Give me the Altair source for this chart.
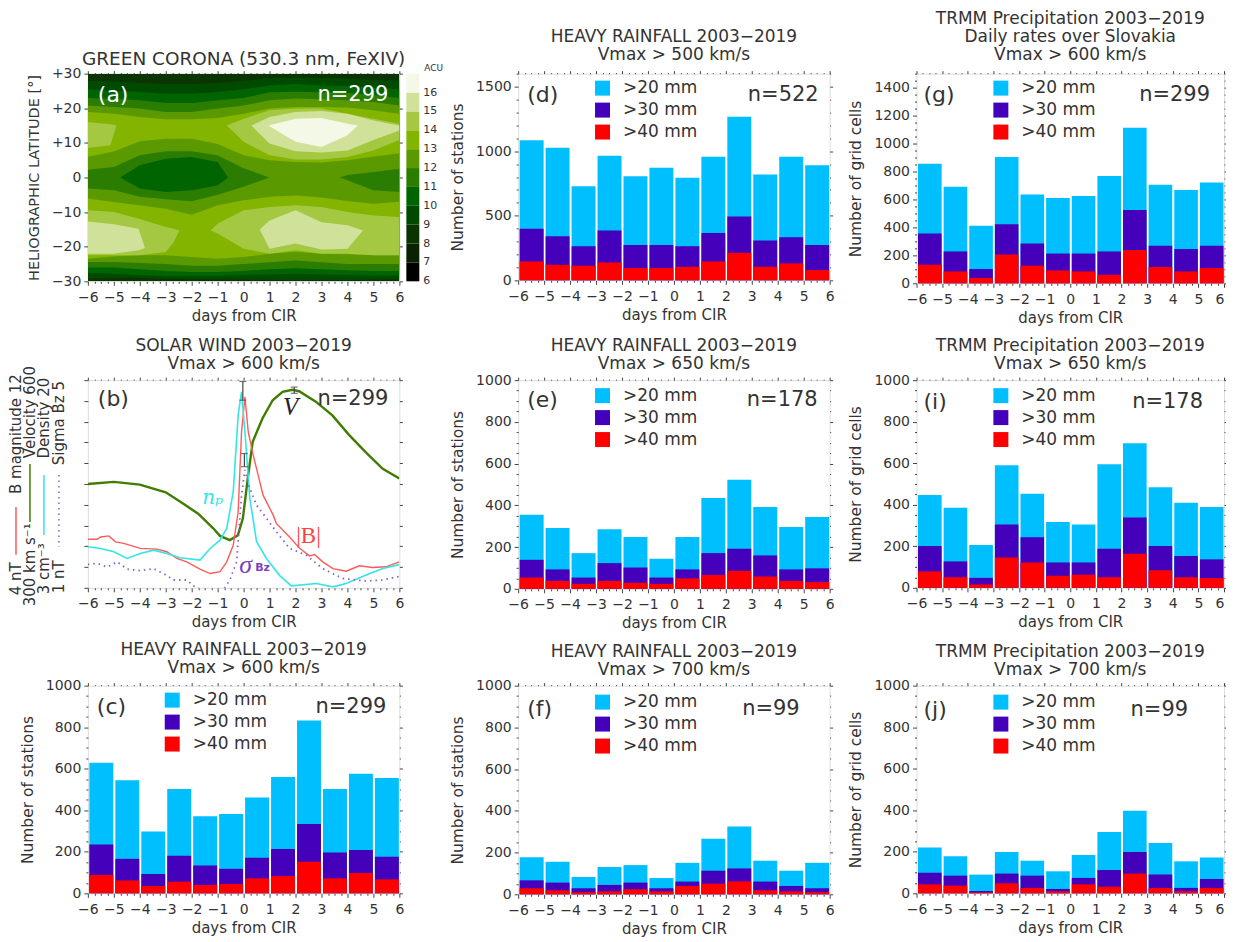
import altair as alt
import numpy as np
import pandas as pd

FONT = "DejaVu Sans"
SERIF = "Liberation Serif"
INK = "#333333"
W, H = 312, 208
BAND_NAMES = [">20 mm", ">30 mm", ">40 mm"]
BAND_COLORS = ["#00BFFF", "#4400BB", "#FF0000"]
DAY_TICKS = np.arange(-6, 6.01, 0.25).tolist()
BIN_LO = list(range(-6, 6))
DAYS = list(range(-6, 7))

# ---------- rainfall panels
c20 = [629, 544, 298, 502, 371, 382, 461, 560, 832, 502, 576, 555]
c30 = [235, 166, 93, 181, 134, 118, 171, 213, 334, 197, 208, 176]
c40 = [88, 62, 35, 56, 40, 45, 72, 83, 152, 72, 98, 67]
d20 = [1085, 1026, 728, 964, 805, 872, 795, 956, 1267, 820, 956, 890]
d30 = [400, 341, 264, 385, 274, 274, 264, 367, 495, 308, 333, 274]
d40 = [146, 120, 113, 138, 95, 95, 105, 146, 213, 105, 131, 79]
e20 = [355, 291, 171, 286, 248, 144, 248, 435, 523, 392, 296, 344]
e30 = [139, 93, 54, 123, 102, 54, 93, 171, 192, 160, 93, 98]
e40 = [54, 38, 24, 38, 29, 24, 50, 66, 86, 59, 38, 32]
f20 = [178, 156, 83, 131, 140, 78, 151, 266, 325, 161, 113, 151]
f30 = [67, 56, 29, 45, 56, 29, 61, 113, 124, 61, 40, 29]
f40 = [29, 19, 10, 14, 24, 14, 40, 51, 62, 19, 14, 10]
g20 = [856, 691, 412, 904, 635, 611, 625, 768, 1113, 705, 667, 722]
g30 = [356, 228, 102, 422, 284, 213, 213, 228, 524, 269, 245, 269]
g40 = [133, 85, 39, 206, 126, 92, 85, 61, 238, 116, 85, 109]
i20 = [447, 386, 206, 590, 453, 317, 305, 595, 696, 484, 410, 389]
i30 = [201, 127, 48, 305, 243, 122, 122, 188, 338, 201, 153, 137]
i40 = [79, 51, 16, 146, 122, 58, 63, 51, 164, 84, 51, 47]
j20 = [221, 179, 90, 199, 157, 106, 184, 295, 397, 242, 154, 173]
j30 = [99, 85, 11, 95, 85, 21, 74, 112, 199, 90, 26, 69]
j40 = [43, 37, 5, 48, 26, 10, 43, 32, 95, 26, 10, 26]

# ---------- solar wind panel
v_day = [-6, -5, -4, -3, -2.35, -1.75, -1.17, -0.91, -0.53, -0.22, -0.03, 0.16, 0.35, 0.73, 1.12, 1.5, 1.88, 2.14, 2.78, 3.42, 4.06, 4.7, 5.36, 6]
v_val = [450, 453, 449, 438, 422, 407, 386, 375, 369, 376, 400, 458, 511, 545, 571, 583, 586, 584, 569, 549, 521, 496, 472, 458]
b_day = [-6, -5.64, -5.51, -5.19, -4.94, -4.62, -3.98, -3.34, -2.96, -2.57, -2.19, -1.68, -1.29, -0.91, -0.65, -0.4, -0.21, -0.08, 0.05, 0.18, 0.37, 0.56, 0.75, 1.14, 1.26, 1.77, 2.16, 2.54, 2.73, 3.05, 3.44, 3.95, 4.46, 4.97, 5.48, 6]
b_val = [5.87, 5.87, 5.96, 6.0, 5.77, 5.71, 5.52, 5.49, 5.39, 5.13, 5.0, 4.72, 4.55, 4.62, 5.0, 5.64, 6.93, 10.0, 11.36, 10.0, 9.11, 8.34, 7.57, 6.8, 6.48, 5.96, 5.52, 5.23, 5.28, 5.0, 4.74, 4.64, 4.85, 4.78, 4.81, 5.0]
n_day = [-6, -5.51, -5, -4.49, -3.98, -3.47, -2.96, -2.45, -1.68, -1.29, -0.91, -0.65, -0.4, -0.21, -0.08, 0.05, 0.24, 0.5, 0.88, 1.4, 1.84, 2.8, 3.44, 3.95, 4.72, 5.36, 6]
n_val = [6.36, 6.22, 5.95, 5.4, 5.81, 6.08, 5.81, 5.46, 5.27, 6.22, 6.9, 7.86, 10.86, 17.14, 19.05, 15.77, 10.31, 6.77, 5.4, 3.98, 3.16, 3.35, 3.08, 3.35, 4.04, 4.58, 4.9]
s_day = [-6, -5.64, -5.26, -4.87, -4.49, -3.98, -3.47, -2.96, -2.7, -2.19, -1.81, -0.78, -0.53, -0.27, -0.08, 0.05, 0.24, 0.5, 0.88, 1.26, 1.77, 2.41, 3.05, 3.82, 4.72, 5.36, 6]
s_val = [1.45, 1.47, 1.40, 1.5, 1.36, 1.33, 1.37, 1.24, 1.15, 1.15, 0.99, 0.96, 1.15, 1.5, 2.78, 3.27, 2.91, 2.59, 2.34, 2.08, 1.76, 1.63, 1.37, 1.18, 1.13, 1.15, 1.22]
err_day = [-0.03, 0.03, 1.95]
err_hi = [598, 494, 590]
err_lo = [571, 475, 581]

# ---------- corona panel: contour regions, (level, days, upper latitude, lower latitude)
LEVEL_COLORS = ["#000000", "#0a2200", "#0a3500", "#004a00", "#006400", "#2a7d00", "#5a9a00", "#82b400", "#a5c843", "#d0e29a", "#f4f8e6"]
LEVELS = list(range(6, 17))
regions = [
    (8, [-6, 6], [30, 30], [-30, -30]),
    (9, DAYS, [28, 27.7, 27.3, 27, 27, 27.3, 28, 28.7, 28.9, 28.7, 28.5, 28.2, 28],
        [-29.2, -29, -29, -29.3, -29.5, -29.5, -29.5, -29.6, -29.6, -29.6, -29.6, -29.5, -29.5]),
    (10, DAYS, [25.5, 25, 24.7, 24.2, 24.2, 24.7, 25.5, 26.6, 27, 26.6, 26.4, 26, 25.5],
        [-27.5, -27.8, -28.2, -28.5, -28.5, -28.5, -28.2, -28, -27.8, -28, -28.2, -28.3, -28.3]),
    (11, DAYS, [23, 22.7, 22.3, 21.5, 21.5, 22.3, 23, 24.6, 24.8, 24.6, 24.4, 23.8, 23],
        [-26, -26, -26.5, -27, -27.3, -27.3, -27, -26.5, -26.2, -26.5, -26.8, -27, -27]),
    (12, DAYS, [20.8, 20.4, 19.9, 18.9, 18.9, 19.9, 20.8, 22.3, 22.8, 22.6, 22.3, 21.8, 20.8],
        [-24.4, -24.4, -24.7, -25, -25.5, -25.5, -25, -24.5, -24, -24.5, -25, -25, -25]),
    (13, DAYS, [18.9, 18.4, 17.5, 16.8, 16.8, 17.2, 18.4, 19.9, 20.4, 20.4, 20.2, 19.4, 18.4],
        [-23.5, -22.8, -22.5, -22.5, -23, -23.5, -23, -22, -21.5, -22, -22.2, -22.5, -22.5]),
    (12, DAYS, [6, 7.5, 10.5, 11.2, 11.2, 9.7, 6.4, 5, 4.5, 4.3, 5, 6, 7],
        [-6.1, -7.1, -8, -9, -10.8, -8, -6.6, -5.6, -5.2, -5.8, -6.8, -7.6, -7]),
    (11, [-6, -5, -4, -3, -2, -1, 0, 1], [2.2, 3, 6.4, 7.6, 7.6, 6.4, 2.7, 0], [-3.2, -3.7, -5.6, -6.3, -6.9, -5, -2.7, 0]),
    (11, [3.7, 4, 5, 6], [0, 0.7, 1.6, 2.5], [0, -0.8, -3.7, -4.2]),
    (10, [-4.75, -4, -3, -2, -1, -0.6], [0, 3.5, 5.4, 5.9, 4.5, 0], [0, -3.2, -4.2, -3.7, -2.3, 0]),
    (14, [-6, -5.13, -4.9], [16, 15.4, 15], [8.5, 9.3, 15]),
    (14, [-0.65, 0, 1, 2, 3, 4, 5, 6], [15, 17, 19.4, 19.9, 19.9, 18.4, 17, 15.5], [15, 10.3, 6.4, 5.2, 5.2, 5.9, 7.8, 10.8]),
    (15, [0.3, 1, 2, 3, 4, 5, 6], [15, 17.5, 18.9, 19.2, 18.4, 16.5, 15], [15, 9.8, 7.6, 7.2, 7.8, 10.8, 13.6]),
    (16, [0.95, 2, 3, 4, 4.4], [15, 17, 17.2, 15.5, 15], [15, 10.3, 8.8, 12.2, 15]),
    (14, [-6, -5, -4, -3, -2.7, -2.47], [-9.5, -10, -12, -14.3, -14.8, -15.3], [-22.5, -22.5, -22.5, -21.5, -18.7, -15.3]),
    (15, [-6, -5, -4.05, -3.8], [-12.7, -13.5, -14.8, -20.4], [-22, -22, -21, -20.4]),
    (14, [-1.27, -1, 0, 1, 2, 3, 4, 5, 6], [-15.3, -13.3, -9.5, -8.5, -8, -8.5, -10, -11, -11.4], [-15.3, -16.2, -20.6, -22, -21, -22, -22, -22.5, -22.5]),
    (15, [0.62, 1, 2, 3, 4, 4.6], [-15, -12.4, -9.5, -12.9, -13.8, -15.3], [-15, -20.6, -19.1, -20.8, -20.6, -15.3]),
]


def x_scale():
    return alt.Scale(domain=[-6, 6], nice=False, zero=False)


def x_axis(orient="bottom", flush_last=False):
    bottom = orient == "bottom"
    extra = {}
    if flush_last:
        extra["labelAlign"] = {"condition": {"test": "datum.value == 6", "value": "right"}, "value": "center"}
    return alt.Axis(
        orient=orient, values=DAY_TICKS, domain=False, grid=False,
        title="days from CIR" if bottom else None,
        titleFont=FONT, titleFontSize=15, titleFontWeight="normal", titleColor=INK, titlePadding=4,
        labels=bottom, labelFlush=False, labelOverlap=False, labelFont=FONT, labelFontSize=14,
        labelColor=INK, labelPadding=5,
        labelExpr="datum.value % 1 == 0 ? format(datum.value, 'd') : ''",
        tickColor="#444444", tickWidth=1,
        tickSize={"condition": {"test": "datum.value % 1 == 0", "value": 4 if bottom else 3}, "value": 2 if bottom else 1},
        **extra,
    )


def y_axis(ticks, major, orient="left", title=None, signed=False, show_labels=True, title_size=15.5):
    left = orient == "left"
    fmt = "(datum.value == 0 ? '0' : format(datum.value, '+d'))" if signed else "format(datum.value, 'd')"
    if left and title:
        kw = dict(title=title, titleFont=FONT, titleFontSize=title_size, titleFontWeight="normal",
                  titleColor=INK, titlePadding=10)
    else:
        kw = dict(title=None)
    return alt.Axis(
        orient=orient, values=ticks, domain=False, grid=False,
        labels=left and show_labels, labelFlush=False, labelOverlap=False, labelFont=FONT,
        labelFontSize=14, labelColor=INK, labelPadding=3,
        labelExpr=f"datum.value % {major} == 0 ? {fmt} : ''",
        tickColor="#444444", tickWidth=1,
        tickSize={"condition": {"test": f"datum.value % {major} == 0", "value": 4 if left else 3}, "value": 2 if left else 1},
        **kw,
    )


ONE = pd.DataFrame({"k": [0]})


def note(text, px, py, size=21, color=INK, align="left", font=FONT, style="normal", angle=0, weight="normal"):
    return alt.Chart(ONE).mark_text(
        text=text, font=font, fontSize=size, color=color, align=align, baseline="middle",
        fontStyle=style, angle=angle, fontWeight=weight,
    ).encode(x=alt.value(px), y=alt.value(py))


def panel_title(lines, offset=9, size=17):
    return alt.TitleParams(text=lines, font=FONT, fontSize=size, fontWeight="normal", color=INK,
                           lineHeight=18, anchor="middle", offset=offset)


def bar_panel(v20, v30, v40, ymax, major, minor, ytitle, lines, letter, n_text, n_right,
              letter_y, legend_y, legend_x=76, letter_x=9, width=W, height=H, title_offset=1, flush_last=False):
    rows = []
    for name, vals in zip(BAND_NAMES, (v20, v30, v40)):
        for lo, v in zip(BIN_LO, vals):
            rows.append({"lo": lo, "hi": lo + 1, "v": v, "zero": 0, "band": name})
    df = pd.DataFrame(rows)
    ticks = list(range(0, ymax + 1, minor))
    ysc = alt.Scale(domain=[0, ymax], nice=False, zero=True)
    bars = alt.Chart(df).mark_bar(binSpacing=2).encode(
        x=alt.X("lo:Q", bin="binned", scale=x_scale(), axis=x_axis("bottom", flush_last)),
        x2="hi:Q",
        y=alt.Y("v:Q", stack=None, scale=ysc, axis=y_axis(ticks, major, "left", ytitle)),
        y2="zero:Q",
        color=alt.Color("band:N", scale=alt.Scale(domain=BAND_NAMES, range=BAND_COLORS), legend=alt.Legend(
            orient="none", legendX=legend_x, legendY=legend_y, title=None, symbolType="square", symbolSize=225,
            symbolStrokeWidth=0, labelFont=FONT, labelFontSize=17, labelColor=INK, labelOffset=12, rowPadding=4)),
    )
    frame = alt.Chart(df).mark_rect(opacity=0).encode(
        x=alt.X("lo:Q", scale=x_scale(), axis=x_axis("top")),
        x2="hi:Q",
        y=alt.Y("v:Q", scale=ysc, axis=y_axis(ticks, major, "right")),
        y2="zero:Q",
    )
    return alt.layer(
        bars, frame,
        note(letter, letter_x, letter_y, size=22),
        note(n_text, n_right, letter_y, size=21, align="right"),
    ).resolve_axis(x="independent", y="independent").properties(
        width=width, height=height, title=panel_title(lines, offset=title_offset))


def corona_panel():
    y_ticks = list(range(-30, 31, 10))
    ysc = alt.Scale(domain=[-30, 30], nice=False, zero=False)
    layers = []
    for k, (level, days, up, lo) in enumerate(regions):
        df = pd.DataFrame({"day": days, "up": up, "lo": lo})
        color = LEVEL_COLORS[LEVELS.index(level)]
        if k == 0:
            enc = dict(x=alt.X("day:Q", scale=x_scale(), axis=x_axis("bottom")),
                       y=alt.Y("up:Q", scale=ysc, axis=y_axis(y_ticks, 10, "left", "HELIOGRAPHIC LATITUDE [°]", signed=True, title_size=14.5)))
        elif k == 1:
            enc = dict(x=alt.X("day:Q", scale=x_scale(), axis=x_axis("top")),
                       y=alt.Y("up:Q", scale=ysc, axis=y_axis(y_ticks, 10, "right")))
        else:
            enc = dict(x=alt.X("day:Q", scale=x_scale(), axis=None),
                       y=alt.Y("up:Q", scale=ysc, axis=None))
        layers.append(alt.Chart(df).mark_area(color=color, clip=True).encode(y2="lo:Q", **enc))
    layers.append(note("(a)", 10, 21, size=22, color="white"))
    layers.append(note("n=299", 301, 21, size=21, color="white", align="right"))
    # colour bar, on a scale of its own, drawn beside the frame
    cb = pd.DataFrame({"lo": LEVELS, "hi": [v + 1 for v in LEVELS], "c": LEVEL_COLORS})
    cb_scale = alt.Scale(domain=[6, 17], nice=False, zero=False)
    layers.append(alt.Chart(cb).mark_rect().encode(
        x=alt.value(319), x2=alt.value(332),
        y=alt.Y("lo:Q", scale=cb_scale, axis=None), y2="hi:Q",
        color=alt.Color("c:N", scale=None)))
    layers.append(alt.Chart(cb).mark_text(font=FONT, fontSize=11, color=INK, align="left", baseline="middle").encode(
        x=alt.value(336), y=alt.Y("lo:Q", scale=cb_scale, axis=None), text=alt.Text("lo:Q", format="d")))
    layers.append(note("ACU", 337, -6, size=9))
    return alt.layer(*layers).resolve_scale(y="independent").resolve_axis(x="independent", y="independent").properties(
        width=W, height=H, title=panel_title(["GREEN CORONA (530.3 nm, FeXIV)"], offset=-5, size=18.5))


def line(days, vals, domain, color, width=1.4, dash=None, x_ax=None, y_ax=None):
    df = pd.DataFrame({"day": days, "val": vals})
    kw = dict(color=color, strokeWidth=width, clip=True)
    if dash:
        kw["strokeDash"] = dash
    return alt.Chart(df).mark_line(**kw).encode(
        x=alt.X("day:Q", scale=x_scale(), axis=x_ax),
        y=alt.Y("val:Q", scale=alt.Scale(domain=domain, nice=False, zero=False), axis=y_ax),
    )


def wind_panel():
    vt = list(range(300, 601, 30))
    bt = [round(4 + 0.8 * i, 1) for i in range(11)]
    v_line = line(v_day, v_val, [300, 600], "#3f7d00", 2.4, x_ax=x_axis("bottom"),
                  y_ax=y_axis(vt, 30, "left", None, show_labels=False))
    b_line = line(b_day, b_val, [4, 12], "#ff5a5a", 1.4, x_ax=x_axis("top"), y_ax=alt.Axis(
        orient="right", values=bt, labels=False, title=None, domain=False, tickSize=3, tickColor="#444444"))
    n_line = line(n_day, n_val, [3, 20], "#33e6e6", 1.6)
    s_line = line(s_day, s_val, [1, 5], "#8a5fc8", 1.8, dash=[1.5, 4])
    edf = pd.DataFrame({"day": err_day, "hi": err_hi, "lo": err_lo})
    ysc = alt.Scale(domain=[300, 600], nice=False, zero=False)
    err = alt.Chart(edf).mark_rule(color="#444444", strokeWidth=1.2).encode(
        x=alt.X("day:Q", scale=x_scale(), axis=None), y=alt.Y("hi:Q", scale=ysc, axis=None), y2="lo:Q")
    cap_hi = alt.Chart(edf).mark_tick(color="#444444", size=7, thickness=1.2, orient="horizontal").encode(
        x=alt.X("day:Q", scale=x_scale(), axis=None), y=alt.Y("hi:Q", scale=ysc, axis=None))
    cap_lo = alt.Chart(edf).mark_tick(color="#444444", size=7, thickness=1.2, orient="horizontal").encode(
        x=alt.X("day:Q", scale=x_scale(), axis=None), y=alt.Y("lo:Q", scale=ysc, axis=None))

    def side_rule(px, top, bottom, color, dash=None):
        kw = dict(color=color, strokeWidth=1.5)
        if dash:
            kw["strokeDash"] = dash
        return alt.Chart(ONE).mark_rule(**kw).encode(
            x=alt.value(px), y=alt.value(top), y2=alt.value(bottom))

    texts = [
        note("(b)", 10, 19, size=22),
        note("n=299", 301, 19, size=21, align="right"),
        note("V", 203, 27, size=25, color="#222222", font=SERIF, style="italic", align="center"),
        note("nₚ", 125, 118, size=20, color="#33e6e6", font="DejaVu Serif", style="italic", align="center"),
        note("|B|", 221, 156, size=23, color="#ff4040", font=SERIF, align="center"),
        note("σ", 158, 185, size=26, color="#7a3fc0", font=SERIF, style="italic", align="center"),
        note("Bz", 175, 188, size=11, color="#7a3fc0", font=FONT, align="center", weight="bold"),
        note("4 nT", -72, 199, size=15, angle=270, align="center"),
        note("B magnitude  12", -72, 54, size=15, angle=270, align="center"),
        note("300 km s⁻¹", -58, 185, size=15, angle=270, align="center"),
        note("Velocity 600", -58, 32, size=15, angle=270, align="center"),
        note("3 cm⁻³", -44, 189, size=15, angle=270, align="center"),
        note("Density 20", -44, 38, size=15, angle=270, align="center"),
        note("1 nT", -29, 197, size=15, angle=270, align="center"),
        note("Sigma Bz 5", -29, 43, size=15, angle=270, align="center"),
        side_rule(-72, 127, 175, "#ff5a5a"),
        side_rule(-58, 84, 142, "#3f7d00"),
        side_rule(-44, 95, 155, "#33e6e6"),
        side_rule(-29, 95, 167, "#8a5fc8", dash=[1.5, 4]),
    ]
    return alt.layer(v_line, b_line, n_line, s_line, err, cap_hi, cap_lo, *texts).resolve_scale(
        y="independent").resolve_axis(x="independent", y="independent").properties(
        width=W, height=H, title=panel_title(["SOLAR WIND 2003−2019", "Vmax > 600 km/s"], offset=-7))


def spacer(w):
    return alt.Chart(ONE).mark_point(opacity=0).encode(x=alt.value(0), y=alt.value(0)).properties(
        width=w, height=1, view=alt.ViewConfig(stroke=None))


ST = "Number of stations"
GC = "Number of grid cells"
RF = "HEAVY RAINFALL 2003−2019"
TR = "TRMM Precipitation 2003−2019"
W3 = 308

a_panel = corona_panel()
b_panel = wind_panel()
c_panel = bar_panel(c20, c30, c40, 1000, 200, 50, ST, [RF, "Vmax > 600 km/s"], "(c)", "n=299", 299, 21, 6, title_offset=1.5)
d_panel = bar_panel(d20, d30, d40, 1600, 500, 100, ST, [RF, "Vmax > 500 km/s"], "(d)", "n=522", 301, 21, 6, height=207, title_offset=2.5)
e_panel = bar_panel(e20, e30, e40, 1000, 200, 50, ST, [RF, "Vmax > 650 km/s"], "(e)", "n=178", 300, 20, 7, height=209, title_offset=0.5)
f_panel = bar_panel(f20, f30, f40, 1000, 200, 50, ST, [RF, "Vmax > 700 km/s"], "(f)", "n=99", 282, 23, 8, height=209, title_offset=0)
g_panel = bar_panel(g20, g30, g40, 1500, 200, 50, GC, [TR, "Daily rates over Slovakia", "Vmax > 600 km/s"], "(g)", "n=299", 294, 21, 6, letter_x=7, width=W3, height=210, title_offset=3, flush_last=True)
i_panel = bar_panel(i20, i30, i40, 1000, 200, 50, GC, [TR, "Vmax > 650 km/s"], "(i)", "n=178", 287, 22, 7, letter_x=7, width=W3, title_offset=0.5, flush_last=True)
j_panel = bar_panel(j20, j30, j40, 1000, 200, 50, GC, [TR, "Vmax > 700 km/s"], "(j)", "n=99", 272, 24, 8, letter_x=7, width=W3, title_offset=0, flush_last=True)

chart = alt.concat(
    a_panel, spacer(119), d_panel, spacer(87), g_panel,
    b_panel, spacer(119), e_panel, spacer(87), i_panel,
    c_panel, spacer(119), f_panel, spacer(87), j_panel,
    columns=5, bounds="flush", align="each", spacing={"row": 97, "column": 0},
).resolve_scale(color="independent").properties(
    padding={"left": 0, "top": 0, "right": -2, "bottom": -1}
).configure_view(stroke="#555555", strokeWidth=1.5).configure(background="white")

chart.save("out.html", embed_options={"renderer": "svg", "actions": False})
